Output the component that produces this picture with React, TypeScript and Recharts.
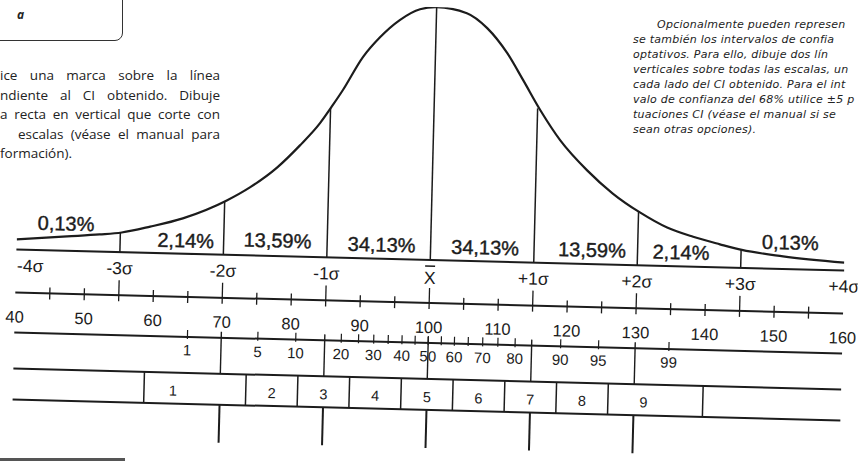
import React from "react";
import { ComposedChart, Line, XAxis, YAxis, Scatter, ReferenceLine } from "recharts";

// normal curve, height relative to the peak
const curveIq = [40, 47.3, 52, 55.2, 59.3, 64, 70.3, 73.6, 77.5, 80.7, 83.5, 85.3, 86.7, 89.5, 91.9, 94.7, 97.6, 100, 104.4, 107.4, 110.4, 112.8, 115.4, 118.4, 122.4, 126.2, 130.2, 134.2, 138, 141.9, 145.1, 151.1, 160];
const curveHeight = [4.0, 5.7, 6.8, 7.8, 10.4, 14.0, 21.5, 26.9, 35.1, 44.0, 52.9, 60.2, 66.2, 79.5, 87.5, 94.5, 99.0, 100, 97.9, 92.2, 82.5, 72.0, 60.3, 48.6, 37.0, 28.1, 20.9, 15.2, 11.8, 9.1, 7.1, 5.0, 3.1];

const sigmaIq = [40, 55, 70, 85, 100, 115, 130, 145, 160];
const sigmaLabels = ["-4σ", "-3σ", "-2σ", "-1σ", "X", "+1σ", "+2σ", "+3σ", "+4σ"];
const sigmaLineIq = [55, 70, 85, 100, 115, 130, 145];
const sigmaLineHeight = [7.8, 21.2, 59, 100, 61, 21.2, 7.1];

const areaLabels = ["0,13%", "2,14%", "13,59%", "34,13%", "34,13%", "13,59%", "2,14%", "0,13%"];
const areaLabelIq = [47.1, 64.5, 77.8, 92.9, 107.9, 123.4, 136.3, 152.1];
const areaLabelHeight = [10.8, 5.3, 6.2, 5.6, 5.5, 5.6, 5.6, 10.5];

const iqTicks = [40, 45, 50, 55, 60, 65, 70, 75, 80, 85, 90, 95, 100, 105, 110, 115, 120, 125, 130, 135, 140, 145, 150, 155, 160];
const iqLabels = [40, 50, 60, 70, 80, 90, 100, 110, 120, 130, 140, 150, 160];

const percentiles = [1, 5, 10, 20, 25, 30, 35, 40, 45, 50, 55, 60, 65, 70, 75, 80, 90, 95, 99];
const percentileIq = [65.1, 75.3, 80.8, 87.4, 89.9, 92.1, 94.2, 96.2, 98.1, 100, 101.9, 103.8, 105.8, 107.9, 110.1, 112.6, 119.2, 124.7, 134.9];
const percentileLabels = [1, 5, 10, 20, 30, 40, 50, 60, 70, 80, 90, 95, 99];

const stanineEdges = [59, 73.75, 81.25, 88.75, 96.25, 103.75, 111.25, 118.75, 126.25, 140];
const stanines = [1, 2, 3, 4, 5, 6, 7, 8, 9];
const stanineLabelIq = [63.2, 77.5, 85, 92.5, 100, 107.5, 115, 122.5, 131.4];

const guideIq = [70, 85, 115, 130];
const bottomIq = [70, 85, 100, 115, 130];

const leftText = [
  { text: "ice una marca sobre la línea", left: 0, last: false },
  { text: "ndiente al CI obtenido. Dibuje", left: 0, last: false },
  { text: "a recta en vertical que corte con", left: 0, last: false },
  { text: "escalas (véase el manual para", left: 18, last: false },
  { text: "formación).", left: 0, last: true },
];
const rightText = [
  "Opcionalmente pueden represen",
  "se también los intervalos de confia",
  "optativos. Para ello, dibuje dos lín",
  "verticales sobre todas las escalas, un",
  "cada lado del CI obtenido. Para el int",
  "valo de confianza del 68% utilice ±5 p",
  "tuaciones CI (véase el manual si se",
  "sean otras opciones).",
];

const ink = "#1c1c1c";
const font = "'Liberation Sans', Arial, sans-serif";

const curveData = curveIq.map((iq, i) => ({ iq, h: curveHeight[i] }));
const areaData = areaLabelIq.map((iq, i) => ({ iq, h: areaLabelHeight[i], text: areaLabels[i] }));
const pctAxisTicks = [...percentileIq, ...guideIq].sort((a, b) => a - b);
const stanineAxisTicks = [...stanineEdges, ...stanineLabelIq].sort((a, b) => a - b);

function SigmaTick({ x, y, payload }: any) {
  const i = sigmaIq.indexOf(payload.value);
  const label = sigmaLabels[i];
  return (
    <g>
      <text x={i === 0 ? x + 1 : x} y={label === "X" ? y + 18 : y + 16} textAnchor={i === 0 ? "start" : "middle"}
        dominantBaseline="central" fontFamily={font} fontSize={17.5} fill={ink}>{label}</text>
      {label === "X" && <line x1={x - 5} x2={x + 5} y1={y + 6} y2={y + 6} stroke={ink} strokeWidth={1.5} />}
    </g>
  );
}

function IqTick({ x, y, payload }: any) {
  const v = payload.value;
  const sigma = sigmaLineIq.includes(v);
  return (
    <g>
      {v > 40 && v < 160 && (
        <line x1={x} x2={x} y1={y - (sigma ? 15 : 6)} y2={y + 6} stroke={ink} strokeWidth={1.3} />
      )}
      {iqLabels.includes(v) && (
        <text x={x} y={y + 24} textAnchor="middle" dominantBaseline="central" fontFamily={font} fontSize={16.5} fill={ink}>{v}</text>
      )}
    </g>
  );
}

function PercentileTick({ x, y, payload }: any) {
  const v = payload.value;
  const i = percentileIq.indexOf(v);
  const p = i >= 0 ? percentiles[i] : null;
  return (
    <g>
      {(guideIq.includes(v) || v === 100) && (
        <line x1={x} x2={x} y1={y - 6} y2={y + 36} stroke={ink} strokeWidth={1.4} />
      )}
      {p !== null && <line x1={x} x2={x} y1={y - 7} y2={y + 2} stroke={ink} strokeWidth={1.2} />}
      {p !== null && percentileLabels.includes(p) && (
        <text x={x} y={y + 13} textAnchor="middle" dominantBaseline="central" fontFamily={font} fontSize={15} fill={ink}>{p}</text>
      )}
    </g>
  );
}

function StanineTick({ x, y, payload }: any) {
  const v = payload.value;
  const j = stanineLabelIq.indexOf(v);
  if (stanineEdges.includes(v)) {
    return <line x1={x} x2={x} y1={y} y2={y + 31} stroke={ink} strokeWidth={1.5} />;
  }
  return (
    <text x={x} y={y + 18} textAnchor="middle" dominantBaseline="central" fontFamily={font} fontSize={14.5} fill={ink}>{stanines[j]}</text>
  );
}

function BottomTick({ x, y }: any) {
  return <line x1={x} x2={x} y1={y} y2={y + 38} stroke={ink} strokeWidth={2} />;
}

const axisLine = { stroke: ink, strokeWidth: 2 };

export default function App() {
  return (
    <div style={{ position: "absolute", left: 0, top: 0, width: 859, height: 462, overflow: "hidden", background: "#fff" }}>
      {/* box "a" top left */}
      <div style={{ position: "absolute", left: -20, top: -20, width: 141, height: 59, border: `1.5px solid #333`, borderRadius: 8 }} />
      <div style={{ position: "absolute", left: 17, top: 6, fontFamily: "'Open Sans', sans-serif", fontStyle: "italic", fontWeight: 700, fontSize: 12, color: "#222" }}>a</div>

      {leftText.map((l, i) => (
        <div key={i} style={{
          position: "absolute", left: l.left, top: 66 + i * 19.5, width: 220 - l.left, lineHeight: "19.5px",
          fontFamily: "'Open Sans', sans-serif", fontSize: 13.5, color: "#222", whiteSpace: "nowrap",
          textAlign: l.last ? "left" : "justify", textAlignLast: l.last ? "left" : "justify",
        }}>{l.text}</div>
      ))}

      {rightText.map((t, i) => (
        <div key={i} style={{
          position: "absolute", left: i === 0 ? 657 : 633, top: 18 + i * 15, height: 14, lineHeight: "14px",
          fontFamily: "'DejaVu Sans', sans-serif", fontStyle: "italic", fontSize: 11, letterSpacing: 0.25,
          color: "#222", whiteSpace: "nowrap",
        }}>{t}</div>
      ))}

      <div style={{ position: "absolute", left: 0, top: 458, width: 125, height: 3, background: "#555" }} />

      <div style={{ position: "absolute", left: 0, top: 0, transform: "rotate(1.45deg)", transformOrigin: "429.5px 231px" }}>
        <ComposedChart width={859} height={462} data={curveData} margin={{ top: 7, right: 14, bottom: 0, left: 17 }}>
          <YAxis hide domain={[0, 100]} allowDataOverflow />
          {/* axis ids are prefixed so they stack top to bottom in this order */}
          <XAxis xAxisId="a1sigma" dataKey="iq" type="number" domain={[40, 160]} allowDataOverflow ticks={sigmaIq} interval={0}
            height={43} tickSize={0} tickMargin={0} tickLine={false} axisLine={axisLine} tick={<SigmaTick />} />
          <XAxis xAxisId="a2iq" dataKey="iq" type="number" domain={[40, 160]} allowDataOverflow ticks={iqTicks} interval={0}
            height={40} tickSize={0} tickMargin={0} tickLine={false} axisLine={axisLine} tick={<IqTick />} />
          <XAxis xAxisId="a3pct" dataKey="iq" type="number" domain={[40, 160]} allowDataOverflow ticks={pctAxisTicks} interval={0}
            height={36} tickSize={0} tickMargin={0} tickLine={false} axisLine={axisLine} tick={<PercentileTick />} />
          <XAxis xAxisId="a4stanine" dataKey="iq" type="number" domain={[40, 160]} allowDataOverflow ticks={stanineAxisTicks} interval={0}
            height={31} tickSize={0} tickMargin={0} tickLine={false} axisLine={axisLine} tick={<StanineTick />} />
          <XAxis xAxisId="a5bottom" dataKey="iq" type="number" domain={[40, 160]} allowDataOverflow ticks={bottomIq} interval={0}
            height={52} tickSize={0} tickMargin={0} tickLine={false} axisLine={axisLine} tick={<BottomTick />} />

          {sigmaLineIq.map((v, i) => (
            <ReferenceLine key={v} xAxisId="a1sigma" segment={[{ x: v, y: 0 }, { x: v, y: sigmaLineHeight[i] }]}
              stroke={ink} strokeWidth={1.5} />
          ))}

          <Line xAxisId="a1sigma" dataKey="h" type="monotone" dot={false} stroke={ink} strokeWidth={2.2} isAnimationActive={false} />

          <Scatter xAxisId="a1sigma" data={areaData} dataKey="h" isAnimationActive={false}
            shape={(p: any) => (
              <text x={p.cx} y={p.cy} textAnchor="middle" dominantBaseline="central" fontFamily={font} fontSize={20}
                fill={ink} stroke={ink} strokeWidth={0.4}>{p.payload.text}</text>
            )} />
        </ComposedChart>
      </div>
    </div>
  );
}
